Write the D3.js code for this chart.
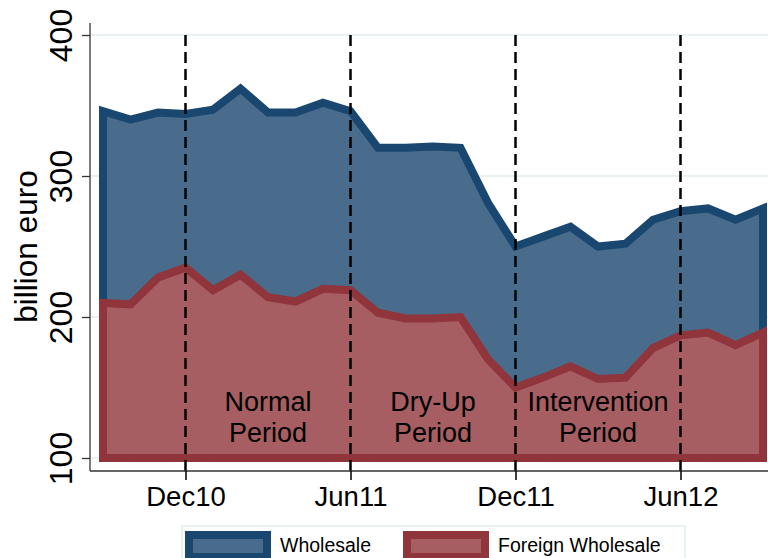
<!DOCTYPE html>
<html>
<head>
<meta charset="utf-8">
<script src="https://cdn.jsdelivr.net/npm/d3@7"></script>
<style>
  body{margin:0;background:#fff;}
  text{font-family:"Liberation Sans",Arial,Helvetica,sans-serif;fill:#000;}
</style>
</head>
<body>
<div id="chart"></div>
<script>
var w=768, h=558;

// monthly observations, Sep 2010 - Sep 2012
var months=["Sep10","Oct10","Nov10","Dec10","Jan11","Feb11","Mar11","Apr11","May11","Jun11","Jul11","Aug11","Sep11",
            "Oct11","Nov11","Dec11","Jan12","Feb12","Mar12","Apr12","May12","Jun12","Jul12","Aug12","Sep12"];
var wholesale=[346,340,345,344,347,362,345,345,352,346,320,320,321,320,281,250,257,264,250,252,269,275,277,269,277];
var foreignWholesale=[210,209,228,235,219,230,214,211,220,219,203,199,199,200,170,150,157,165,156,157,178,187,189,180,189];

var yTicks=[100,200,300,400];
var xTickLabels=["Dec10","Jun11","Dec11","Jun12"];
var periods=[{line1:"Normal",line2:"Period",at:"Mar11"},
             {line1:"Dry-Up",line2:"Period",at:"Sep11"},
             {line1:"Intervention",line2:"Period",at:"Mar12"}];
var seriesNames=["Wholesale","Foreign Wholesale"];

var plot={left:90, top:23, bottom:471, right:768};

var svg=d3.select("#chart").append("svg")
          .attr("width",w)
          .attr("height",h);

//Scales
var xScale=d3.scaleLinear().domain([0,months.length-1]).range([103,763]);
var yScale=d3.scaleLinear().domain([100,400]).range([458,35]);

//Grid lines
svg.append("g")
   .selectAll("line")
   .data(yTicks)
   .enter()
   .append("line")
   .attr("x1",plot.left)
   .attr("x2",plot.right)
   .attr("y1",function(d){return yScale(d);})
   .attr("y2",function(d){return yScale(d);})
   .attr("stroke","#e3edf0")
   .attr("stroke-width",1.5);

//Areas (closed polygon down to 100, stroked all round)
function areaPath(vals){
  var pts=[[xScale(0),yScale(100)]];
  vals.forEach(function(v,i){pts.push([xScale(i),yScale(v)]);});
  pts.push([xScale(vals.length-1),yScale(100)]);
  return "M"+pts.map(function(p){return p[0]+","+p[1];}).join("L")+"Z";
}
var series=[{vals:wholesale,fill:"#496c8c",stroke:"#1a476f"},
            {vals:foreignWholesale,fill:"#a65e63",stroke:"#90353b"}];

svg.append("g")
   .selectAll("path")
   .data(series)
   .enter()
   .append("path")
   .attr("d",function(d){return areaPath(d.vals);})
   .attr("fill",function(d){return d.fill;})
   .attr("stroke",function(d){return d.stroke;})
   .attr("stroke-width",8)
   .attr("stroke-linejoin","miter")
   .attr("stroke-miterlimit",10);

//Dashed period separators
svg.append("g")
   .selectAll("line")
   .data(xTickLabels)
   .enter()
   .append("line")
   .attr("x1",function(d){return xScale(months.indexOf(d));})
   .attr("x2",function(d){return xScale(months.indexOf(d));})
   .attr("y1",yScale(400))
   .attr("y2",plot.bottom)
   .attr("stroke","#000")
   .attr("stroke-width",2.5)
   .attr("stroke-dasharray","11,6");

//Period labels
var pl=svg.append("g")
   .selectAll("text")
   .data(periods)
   .enter()
   .append("text")
   .attr("text-anchor","middle")
   .style("font-size","27px");
pl.append("tspan")
  .attr("x",function(d){return xScale(months.indexOf(d.at));})
  .attr("y",yScale(133))
  .text(function(d){return d.line1;});
pl.append("tspan")
  .attr("x",function(d){return xScale(months.indexOf(d.at));})
  .attr("y",yScale(111))
  .text(function(d){return d.line2;});

//Axis lines
svg.append("line")
   .attr("x1",plot.left).attr("x2",plot.left)
   .attr("y1",plot.top).attr("y2",plot.bottom)
   .attr("stroke","#333").attr("stroke-width",1.3);
svg.append("line")
   .attr("x1",plot.left).attr("x2",plot.right)
   .attr("y1",plot.bottom).attr("y2",plot.bottom)
   .attr("stroke","#333").attr("stroke-width",1.3);

//Y axis
var yAxis=d3.axisLeft(yScale).tickValues(yTicks).tickSize(8).tickSizeOuter(0);
var gy=svg.append("g")
   .attr("transform","translate("+plot.left+",0)")
   .call(yAxis);
gy.select(".domain").remove();
gy.selectAll(".tick line").attr("stroke","#333").attr("stroke-width",1.3);
gy.selectAll(".tick text")
  .attr("transform","rotate(-90)")
  .attr("x",0)
  .attr("y",-18)
  .attr("dy",0)
  .attr("text-anchor","middle")
  .attr("fill","#000")
  .style("font-size","32px")
  .style("font-family","'Liberation Sans',Arial,sans-serif");

//X axis
var xAxis=d3.axisBottom(xScale)
            .tickValues(xTickLabels.map(function(d){return months.indexOf(d);}))
            .tickFormat(function(i){return months[i];})
            .tickSize(9).tickSizeOuter(0);
var gx=svg.append("g")
   .attr("transform","translate(0,"+plot.bottom+")")
   .call(xAxis);
gx.select(".domain").remove();
gx.selectAll(".tick line").attr("stroke","#000").attr("stroke-width",1.5);
gx.selectAll(".tick text")
  .attr("y",35)
  .attr("dy",0)
  .attr("fill","#000")
  .style("font-size","27.5px")
  .style("font-family","'Liberation Sans',Arial,sans-serif");

//Y axis title
svg.append("text")
   .attr("transform","translate(37,"+(yScale(250))+")rotate(-90)")
   .attr("text-anchor","middle")
   .style("font-size","31.5px")
   .text("billion euro");

//Legend
var legend=svg.append("g");
legend.append("rect")
      .attr("x",182).attr("y",526)
      .attr("width",503).attr("height",45)
      .attr("fill","#fff")
      .attr("stroke","#e3edf0")
      .attr("stroke-width",1.5);
var keyX=[189,407];
var li=legend.selectAll("g.item")
      .data(series)
      .enter()
      .append("g")
      .attr("class","item");
li.append("rect")
  .attr("x",function(d,i){return keyX[i];})
  .attr("y",535)
  .attr("width",78)
  .attr("height",22)
  .attr("fill",function(d){return d.fill;})
  .attr("stroke",function(d){return d.stroke;})
  .attr("stroke-width",8);
li.append("text")
  .attr("x",function(d,i){return keyX[i]+91;})
  .attr("y",552)
  .style("font-size","19.5px")
  .text(function(d,i){return seriesNames[i];});
</script>
</body>
</html>
